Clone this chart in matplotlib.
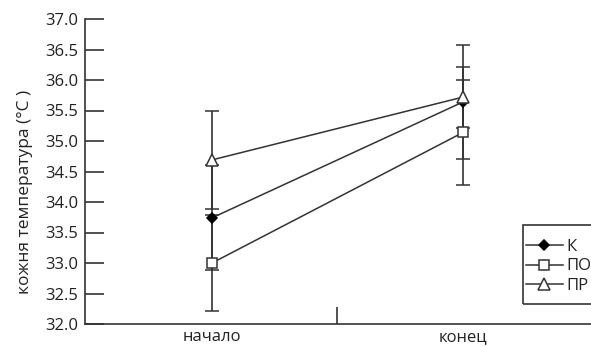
import matplotlib
matplotlib.use("Agg")
import matplotlib.pyplot as plt
from matplotlib.lines import Line2D
from matplotlib.patches import Rectangle
from matplotlib.transforms import blended_transform_factory

categories = ["начало", "конец"]
series_names = ["К", "ПО", "ПР"]
k_vals = [33.74, 35.64]
k_err = [0.86, 0.93]
po_vals = [33.00, 35.14]
po_err = [0.78, 0.86]
pr_vals = [34.69, 35.72]
pr_err = [0.80, 0.50]
yticks = [32.0, 32.5, 33.0, 33.5, 34.0, 34.5, 35.0, 35.5, 36.0, 36.5, 37.0]

plt.rcParams['font.family'] = ['Open Sans', 'DejaVu Sans']

W, H = 591, 347
fig = plt.figure(figsize=(W / 100, H / 100), dpi=100)
ax = fig.add_axes([85 / W, 1 - 324 / H, (W - 85) / W, (324 - 19) / H])

x = [0, 1]
col = '#333333'
styles = [
    dict(marker='D', ms=5, mfc='black', mec='black'),
    dict(marker='s', ms=7, mfc='white', mec=col),
    dict(marker='^', ms=9, mfc='white', mec=col),
]
data = [(k_vals, k_err), (po_vals, po_err), (pr_vals, pr_err)]
handles = []
for name, (v, e), st in zip(series_names, data, styles):
    ax.errorbar(x, v, yerr=e, color=col, lw=1.1, elinewidth=1.2, capsize=5,
                capthick=1.2, mew=1.1, **st)
    handles.append(Line2D([], [], color=col, lw=1.1, mew=1.1, label=name, **st))

ax.set_ylim(32.0, 37.0)
ax.set_xlim(-0.506, 1.51)
ax.set_yticks(yticks)
ax.set_yticklabels([f"{t:.1f}" for t in yticks], color='#222222', fontsize=12)
ax.tick_params(axis='y', direction='in', length=14, width=1.2, color=col, pad=5)
ax.set_xticks([0.5])
ax.set_xticklabels([''])
ax.tick_params(axis='x', direction='in', length=12, width=1.2, color=col)
tr = blended_transform_factory(ax.transData, fig.transFigure)
for i, c in enumerate(categories):
    ax.text(x[i], 1 - 337 / H, c, transform=tr,
            ha='center', va='center', fontsize=12, color='#222222')

for s in ['top', 'right']:
    ax.spines[s].set_visible(False)
for s in ['left', 'bottom']:
    ax.spines[s].set_linewidth(1.2)
    ax.spines[s].set_color(col)

fig.text(25 / W, 1 - 192 / H, "кожня температура (°C )", rotation=90,
         ha='center', va='center', fontsize=12.5, color='#222222')

# legend frame (extends past the right edge like the reference)
fig.patches.append(Rectangle((523 / W, 1 - 304 / H), (80) / W, (304 - 225) / H,
                             transform=fig.transFigure, fill=False,
                             edgecolor=col, lw=1.2, clip_on=False))
leg = fig.legend(handles=handles, loc='center left',
                 bbox_to_anchor=(526 / W, 1 - 266.5 / H),
                 bbox_transform=fig.transFigure, frameon=False,
                 fontsize=12, handlelength=2.2,
                 handletextpad=0.2, borderpad=0, labelspacing=0.2,
                 borderaxespad=0)
for t in leg.get_texts():
    t.set_color('#222222')

fig.savefig("out.png", dpi=100)
